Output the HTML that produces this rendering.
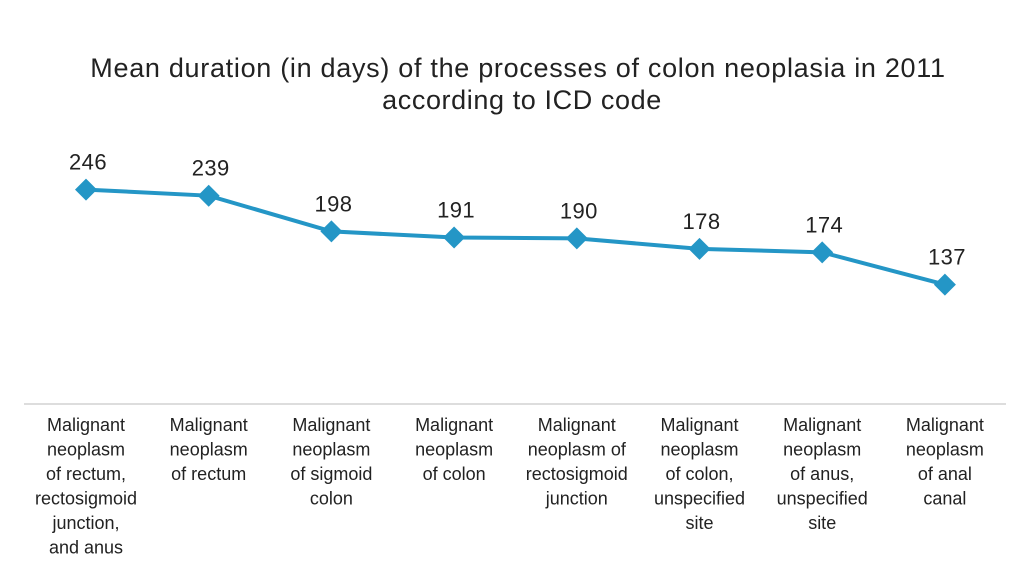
<!DOCTYPE html>
<html><head><meta charset="utf-8"><style>
body{margin:0;background:#fff;width:1024px;height:580px;overflow:hidden;font-family:"Liberation Sans",sans-serif}
</style></head><body>
<svg width="1024" height="580">
<text x="518" y="77" text-anchor="middle" font-size="27" letter-spacing="0.7" fill="#222">Mean duration (in days) of the processes of colon neoplasia in 2011</text>
<text x="522" y="109" text-anchor="middle" font-size="27" letter-spacing="0.6" fill="#222">according to ICD code</text>
<line x1="24" y1="404" x2="1006" y2="404" stroke="#bbb" stroke-width="1"/>
<g id="g"></g>
</svg>
<script>
const categories=[["Malignant","neoplasm","of rectum,","rectosigmoid","junction,","and anus"],["Malignant","neoplasm","of rectum"],["Malignant","neoplasm","of sigmoid","colon"],["Malignant","neoplasm","of colon"],["Malignant","neoplasm of","rectosigmoid","junction"],["Malignant","neoplasm","of colon,","unspecified","site"],["Malignant","neoplasm","of anus,","unspecified","site"],["Malignant","neoplasm","of anal","canal"]];
const values=[246,239,198,191,190,178,174,137];
const NS="http://www.w3.org/2000/svg";
const g=document.getElementById('g');
const x=i=>86+i*122.7;
const y=v=>404-v*0.8716;
function mk(t,a){const e=document.createElementNS(NS,t);for(const k in a)e.setAttribute(k,a[k]);g.appendChild(e);return e;}
const line=mk('polyline',{points:values.map((v,i)=>x(i)+','+y(v)).join(' '),fill:'none',stroke:'#2496c6','stroke-width':4});


values.forEach((v,i)=>{
 const cx=x(i),cy=y(v);
 const m=mk('polygon',{points:`${cx},${cy-11} ${cx+11},${cy} ${cx},${cy+11} ${cx-11},${cy}`,fill:'#2496c6'});
 
 
 const t=mk('text',{x:cx+2,y:cy-20,'text-anchor':'middle','font-size':22,'letter-spacing':0.4,fill:'#222'});
 t.textContent=v;
 
 
 categories[i].forEach((s,j)=>{
  const c=mk('text',{x:cx,y:431+j*24.5,'text-anchor':'middle','font-size':18,'letter-spacing':0,fill:'#222'});
  c.textContent=s;
  
  
 });
});
</script>
</body></html>
